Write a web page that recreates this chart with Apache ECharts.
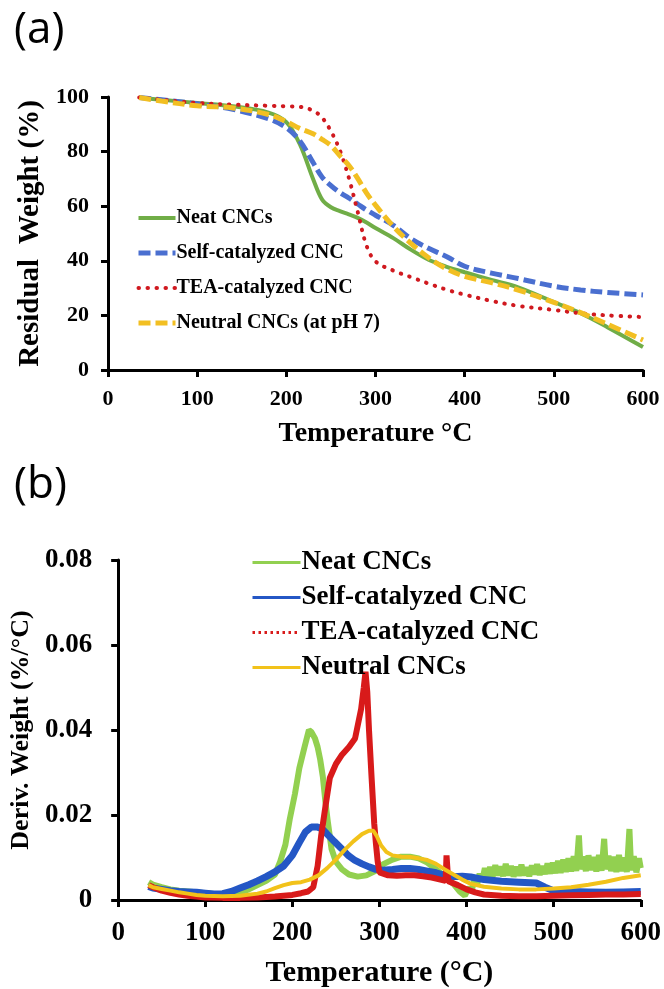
<!DOCTYPE html>
<html>
<head>
<meta charset="utf-8">
<script src="https://cdn.jsdelivr.net/npm/echarts@6/dist/echarts.min.js"></script>
<style>
  html, body { margin: 0; padding: 0; background: #fff; }
  #chart { width: 664px; height: 989px; }
</style>
</head>
<body>
<div id="chart"></div>
<script>
// (a) TGA: residual weight (%) vs temperature
const tempA = [35, 60, 100, 140, 180, 200, 215, 230, 240, 250, 260, 270, 280, 290, 300, 320, 340, 360, 380, 400, 430, 460, 500, 530, 560, 600]
const neatTGA = [99.8, 99, 97.8, 96.6, 94.3, 90.8, 82.8, 70, 62.5, 59.6, 58.2, 57, 55.7, 54, 52, 48.3, 44, 40.3, 37.8, 35.8, 33, 30.3, 24.9, 20.8, 15.7, 8.4]
const selfTGA = [99.8, 99, 97.5, 95.5, 92, 88.8, 84, 76, 70.7, 67.5, 65, 63, 60.8, 58.6, 56.7, 53, 48, 44.5, 41.5, 38, 35.5, 33.5, 30.7, 29.3, 28.4, 27.5]
const teaTGA = [99.8, 99, 97.8, 97.2, 96.8, 96.6, 96.4, 95, 92.5, 87.5, 80.5, 70.5, 58, 45.5, 39.8, 36.4, 34, 31.6, 29.4, 27.6, 25.3, 23.5, 22, 20.8, 20, 19.4]
const neutralTGA = [99.8, 98.5, 96.8, 96, 93.6, 91, 88.5, 86.5, 84.5, 82.2, 78.5, 75, 70.2, 64.8, 60.4, 52.6, 46.3, 41, 37, 34.3, 32, 29.3, 24.8, 21, 16.8, 11]

// (b) DTG: derivative weight (%/°C), [temperature, value]
const neatDTG = [[35,0.0042],[40,0.0036],[50,0.003],[60,0.0025],[70,0.0022],[80,0.002],[90,0.0018],[100,0.0016],[110,0.0014],[120,0.0012],[130,0.0013],[140,0.0018],[150,0.0025],[160,0.0035],[170,0.0045],[180,0.006],[186,0.009],[192,0.013],[197,0.019],[203,0.025],[208,0.031],[214,0.036],[219,0.040],[222,0.0395],[226,0.038],[229,0.036],[232,0.033],[235,0.029],[238,0.023],[241,0.018],[245,0.012],[250,0.009],[257,0.0072],[265,0.006],[275,0.0055],[285,0.0058],[295,0.0068],[305,0.0085],[315,0.0095],[325,0.0102],[335,0.0102],[345,0.0098],[355,0.0088],[365,0.0072],[375,0.0055],[385,0.0038],[392,0.002],[398,0.001],
  [400,0.0012],[403,0.003],[406,0.0022],[409,0.0048],[412,0.0035],[415,0.0062],[418,0.0045],[421,0.0075],[424,0.0052],[427,0.0078],[430,0.0055],[433,0.0082],[436,0.0058],[439,0.0079],[442,0.0056],[445,0.0085],[448,0.0058],[451,0.008],[454,0.0055],[457,0.0078],[460,0.0057],[463,0.0083],[466,0.0058],[469,0.0077],[472,0.0056],[475,0.0081],[478,0.006],[481,0.0084],[484,0.0059],[487,0.008],[490,0.0061],[493,0.0086],[496,0.0062],[499,0.0088],[502,0.0063],[505,0.0092],[508,0.0064],[511,0.0095],[514,0.0066],[517,0.0098],[520,0.0067],[523,0.0103],[526,0.0068],[529,0.0152],[531,0.0072],[534,0.0102],[537,0.0068],[540,0.0105],[543,0.007],[546,0.0101],[549,0.0067],[552,0.0106],[555,0.0069],[558,0.0144],[560,0.0072],[563,0.0104],[566,0.0068],[569,0.0102],[572,0.0066],[575,0.0106],[578,0.0068],[581,0.01],[584,0.0066],[587,0.0167],[589,0.007],[592,0.0103],[595,0.0065],[598,0.0098],[600,0.0075]]
const selfDTG = [[35,0.0032],[40,0.0028],[50,0.0025],[60,0.0022],[70,0.002],[80,0.0019],[90,0.0018],[100,0.0016],[110,0.0014],[120,0.0015],[130,0.002],[140,0.0028],[150,0.0036],[160,0.0045],[170,0.0055],[180,0.0066],[190,0.008],[200,0.0105],[208,0.0135],[215,0.016],[222,0.0172],[228,0.0172],[234,0.0168],[240,0.0155],[248,0.0138],[256,0.0122],[264,0.0105],[272,0.0093],[280,0.0085],[288,0.0078],[296,0.0072],[304,0.007],[315,0.0072],[325,0.0074],[335,0.0074],[345,0.0072],[355,0.0068],[365,0.0064],[375,0.0058],[385,0.0055],[395,0.0056],[405,0.0054],[420,0.0048],[440,0.0044],[460,0.0042],[480,0.004],[490,0.003],[500,0.0022],[520,0.002],[540,0.0019],[560,0.0018],[580,0.0019],[600,0.002]]
const teaDTG = [[35,0.0035],[40,0.003],[50,0.0022],[60,0.0017],[70,0.0013],[80,0.001],[90,0.0008],[100,0.0006],[120,0.0005],[140,0.0005],[160,0.0006],[180,0.0008],[200,0.0012],[210,0.0016],[218,0.002],[224,0.003],[229,0.008],[233,0.015],[238,0.022],[243,0.0287],[250,0.032],[257,0.0342],[265,0.036],[272,0.038],[279,0.045],[282,0.05],[284,0.0537],[286,0.049],[288,0.04],[291,0.0287],[294,0.018],[296,0.0132],[298,0.009],[300,0.0065],[310,0.0058],[320,0.0057],[330,0.0058],[340,0.0058],[350,0.0056],[360,0.0053],[370,0.0048],[376,0.0045],[377,0.0105],[379,0.0044],[390,0.0035],[400,0.0025],[410,0.0018],[420,0.0013],[440,0.001],[460,0.0009],[480,0.0009],[500,0.001],[520,0.0011],[540,0.0012],[560,0.0013],[580,0.0013],[600,0.0014]]
const neutralDTG = [[35,0.0035],[40,0.003],[50,0.0026],[60,0.0022],[70,0.0018],[80,0.0015],[90,0.0012],[100,0.001],[120,0.0009],[140,0.001],[160,0.0015],[170,0.002],[180,0.0028],[190,0.0035],[200,0.004],[210,0.0042],[220,0.0048],[230,0.0058],[240,0.0075],[250,0.0095],[260,0.0118],[270,0.0138],[280,0.0155],[288,0.0163],[293,0.0163],[297,0.015],[302,0.0128],[308,0.0113],[315,0.0105],[325,0.0102],[335,0.0101],[345,0.0098],[355,0.0094],[365,0.0085],[375,0.0072],[385,0.006],[395,0.0048],[405,0.0038],[420,0.0031],[440,0.0027],[460,0.0025],[480,0.0025],[500,0.0027],[520,0.003],[540,0.0036],[560,0.0043],[580,0.0052],[600,0.0058]]

const namesA = ['Neat CNCs', 'Self-catalyzed CNC', 'TEA-catalyzed CNC', 'Neutral CNCs (at pH 7)']
const namesB = ['Neat CNCs ', 'Self-catalyzed CNC ', 'TEA-catalyzed CNC ', 'Neutral CNCs']

const serif = '"Liberation Serif", "Times New Roman", serif'
const chart = echarts.init(document.getElementById('chart'), null, { renderer: 'canvas' })

const axisCommon = {
  axisLine: { lineStyle: { color: '#000', width: 3 } },
  axisTick: { inside: false, length: 7, lineStyle: { color: '#000', width: 3 } },
  splitLine: { show: false },
  nameLocation: 'middle',
  nameTextStyle: { fontFamily: serif, fontWeight: 'bold', color: '#000' }
}

const lineA = (name, data, color, width, type, cap) => ({
  name, type: 'line', xAxisIndex: 0, yAxisIndex: 0,
  data: tempA.map((t, i) => [t, data[i]]),
  smooth: 0.35, symbol: 'none',
  lineStyle: { color, width, type, cap: cap || 'butt' },
  itemStyle: { color }
})

const lineB = (name, data, color, width) => ({
  name, type: 'line', xAxisIndex: 1, yAxisIndex: 1,
  data, symbol: 'none', smooth: false,
  lineStyle: { color, width, join: 'bevel' },
  itemStyle: { color }
})

const option = {
  animation: false,
  backgroundColor: '#fff',
  graphic: [
    { type: 'text', left: 14, top: 8, style: { text: '(a)', font: '44px "Open Sans", sans-serif', fill: '#000' } },
    { type: 'text', left: 14, top: 463, style: { text: '(b)', font: '44px "Open Sans", sans-serif', fill: '#000' } }
  ],
  grid: [
    { left: 108, top: 97, width: 535, height: 273 },
    { left: 111, top: 560, width: 532, height: 343 }
  ],
  legend: [
    {
      orient: 'vertical', left: 131, top: 203, itemWidth: 37, itemHeight: 14, itemGap: 15,
      itemStyle: { opacity: 0 },
      textStyle: { fontFamily: serif, fontWeight: 'bold', fontSize: 20, color: '#000', padding: [0, 0, 0, -4] },
      data: [
        { name: namesA[0], lineStyle: { width: 4 } },
        { name: namesA[1], lineStyle: { width: 5, type: [12, 5] } },
        { name: namesA[2], lineStyle: { width: 4, type: [0.5, 8.5], cap: 'round' } },
        { name: namesA[3], lineStyle: { width: 5, type: [12, 5] } }
      ]
    },
    {
      orient: 'vertical', left: 246, top: 544, itemWidth: 48, itemHeight: 14, itemGap: 8,
      itemStyle: { opacity: 0 },
      textStyle: { fontFamily: serif, fontWeight: 'bold', fontSize: 27, color: '#000', padding: [0, 0, 0, -4] },
      data: [
        { name: namesB[0], lineStyle: { width: 3 } },
        { name: namesB[1], lineStyle: { width: 3 } },
        { name: namesB[2], lineStyle: { width: 3, type: [2.5, 3.5] } },
        { name: namesB[3], lineStyle: { width: 3 } }
      ]
    }
  ],
  xAxis: [
    {
      ...axisCommon, gridIndex: 0, type: 'value', min: 0, max: 600, interval: 100,
      name: 'Temperature °C', nameGap: 50,
      nameTextStyle: { ...axisCommon.nameTextStyle, fontSize: 28 },
      axisLabel: { color: '#000', fontFamily: serif, fontWeight: 'bold', fontSize: 22, margin: 18 }
    },
    {
      ...axisCommon, gridIndex: 1, type: 'value', min: 0, max: 600, interval: 100,
      name: 'Temperature (°C)', nameGap: 58,
      nameTextStyle: { ...axisCommon.nameTextStyle, fontSize: 30 },
      axisLabel: { color: '#000', fontFamily: serif, fontWeight: 'bold', fontSize: 27, margin: 20 }
    }
  ],
  yAxis: [
    {
      ...axisCommon, gridIndex: 0, type: 'value', min: 0, max: 100, interval: 20,
      name: 'Residual  Weight (%)', nameGap: 60,
      nameTextStyle: { ...axisCommon.nameTextStyle, fontSize: 29 },
      axisLabel: { color: '#000', fontFamily: serif, fontWeight: 'bold', fontSize: 22, margin: 19 }
    },
    {
      ...axisCommon, gridIndex: 1, type: 'value', min: 0, max: 0.08, interval: 0.02,
      name: 'Deriv. Weight (%/°C)', nameGap: 72,
      nameTextStyle: { ...axisCommon.nameTextStyle, fontSize: 26 },
      axisLabel: {
        color: '#000', fontFamily: serif, fontWeight: 'bold', fontSize: 27, margin: 26,
        formatter: v => (v === 0 ? '0' : v.toFixed(2))
      }
    }
  ],
  series: [
    lineA(namesA[0], neatTGA, '#70AD47', 4, 'solid'),
    lineA(namesA[1], selfTGA, '#4A6FD0', 5, [12, 5]),
    lineA(namesA[2], teaTGA, '#D0191F', 4, [0.5, 8.5], 'round'),
    lineA(namesA[3], neutralTGA, '#F2BF22', 5, [12, 5]),
    lineB(namesB[0], neatDTG, '#92D050', 6),
    lineB(namesB[1], selfDTG, '#2457C5', 7),
    lineB(namesB[2], teaDTG, '#D81A1A', 6),
    lineB(namesB[3], neutralDTG, '#F2C21A', 4)
  ]
}

chart.setOption(option)
</script>
</body>
</html>
